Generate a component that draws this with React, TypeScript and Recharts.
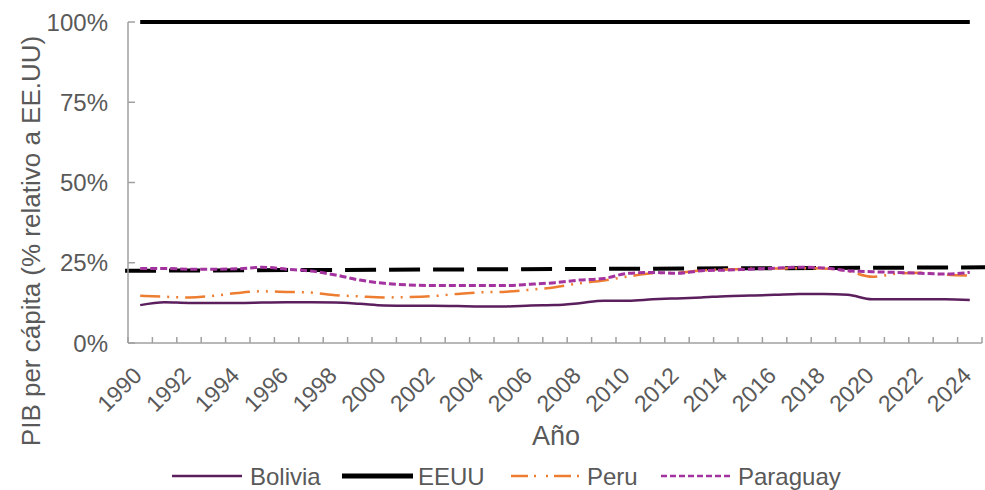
import { LineChart, Line, XAxis, YAxis, ReferenceLine } from "recharts";

const years = [
  1990, 1991, 1992, 1993, 1994, 1995, 1996, 1997, 1998, 1999,
  2000, 2001, 2002, 2003, 2004, 2005, 2006, 2007, 2008, 2009,
  2010, 2011, 2012, 2013, 2014, 2015, 2016, 2017, 2018, 2019,
  2020, 2021, 2022, 2023, 2024
];

const bolivia = [
  11.8, 12.7, 12.5, 12.5, 12.5, 12.6, 12.7, 12.7, 12.6, 12.2,
  11.7, 11.6, 11.6, 11.5, 11.4, 11.4, 11.7, 11.8, 12.4, 13.2,
  13.2, 13.6, 13.9, 14.2, 14.6, 14.8, 15.0, 15.3, 15.3, 15.0,
  13.6, 13.6, 13.6, 13.6, 13.4
];

const eeuu = [
  100, 100, 100, 100, 100, 100, 100, 100, 100, 100,
  100, 100, 100, 100, 100, 100, 100, 100, 100, 100,
  100, 100, 100, 100, 100, 100, 100, 100, 100, 100,
  100, 100, 100, 100, 100
];

const peru = [
  14.7, 14.4, 14.2, 14.7, 15.6, 16.1, 15.9, 15.7, 14.9, 14.5,
  14.2, 14.3, 14.6, 15.3, 15.8, 16.0, 16.6, 17.4, 18.6, 19.5,
  20.7, 21.7, 21.9, 22.6, 22.9, 23.1, 23.2, 23.3, 23.2, 22.4,
  20.6, 21.6, 21.9, 21.3, 21.0
];

const paraguay = [
  23.2, 23.2, 23.0, 23.0, 23.1, 23.6, 23.0, 22.4, 21.2, 19.6,
  18.6, 18.1, 17.9, 17.9, 17.9, 17.9, 18.3, 18.8, 19.6, 20.1,
  21.7, 22.0, 21.7, 22.5, 22.7, 23.0, 23.3, 23.6, 23.4, 22.5,
  22.2, 22.0, 21.7, 21.5, 22.0
];

// dashed black trend line (not in legend)
const trendYears = [1989.38, 2025.5];
const trendValues = [22.5, 23.6];

const yTicks = [0, 25, 50, 75, 100];
const labeledYears = [
  1990, 1992, 1994, 1996, 1998, 2000, 2002, 2004, 2006, 2008,
  2010, 2012, 2014, 2016, 2018, 2020, 2022, 2024
];

const data = years.map((year, i) => ({
  year,
  bolivia: bolivia[i],
  eeuu: eeuu[i],
  peru: peru[i],
  paraguay: paraguay[i]
}));

const boundaries = [...years.map((y) => y - 0.5), years[years.length - 1] + 0.5];

const W = 985;
const H = 490;
const LEFT = 128;
const RIGHT = 3;
const TOP = 22;
const XAXIS_H = 147;
const FONT = "'Liberation Sans', Arial, sans-serif";
const TEXT = "#595959";
const AXIS = "#A0A0A0";

const halfStep = (W - LEFT - RIGHT) / years.length / 2;

function YearTick(props: any) {
  const { x, y, payload } = props;
  const year = payload.value + 0.5;
  if (!labeledYears.includes(year)) return <g />;
  const tx = x + halfStep + 3;
  return (
    <text
      x={tx}
      y={y}
      textAnchor="end"
      fill={TEXT}
      fontSize={23}
      fontFamily={FONT}
      transform={`rotate(-45 ${tx} ${y})`}
    >
      {year}
    </text>
  );
}

const legendItems = [
  { name: "Bolivia", color: "#5B1F5E", width: 2.5, dash: undefined, x1: 172, x2: 242, tx: 250 },
  { name: "EEUU", color: "#000000", width: 5, dash: undefined, x1: 342, x2: 413, tx: 418 },
  { name: "Peru", color: "#ED7D31", width: 2.5, dash: "17 6 2 10 2 6", x1: 511, x2: 581, tx: 587 },
  { name: "Paraguay", color: "#A3339E", width: 2.5, dash: "6 3", x1: 661, x2: 733, tx: 738 }
];

export default function App() {
  return (
    <div style={{ position: "absolute", left: 0, top: 0, width: W, height: H, background: "#fff" }}>
      <LineChart
        width={W}
        height={H}
        data={data}
        margin={{ top: TOP, right: RIGHT, left: 0, bottom: 0 }}
      >
        <XAxis
          type="number"
          dataKey="year"
          domain={[1989.5, 2024.5]}
          ticks={boundaries}
          interval={0}
          allowDataOverflow
          height={XAXIS_H}
          stroke={AXIS}
          strokeWidth={1.5}
          tickSize={-6}
          tickMargin={40}
          tick={<YearTick />}
        />
        <YAxis
          domain={[0, 100]}
          ticks={yTicks}
          width={LEFT}
          stroke={AXIS}
          strokeWidth={1.5}
          tickSize={-7}
          tickMargin={27}
          tickFormatter={(v) => `${v}%`}
          tick={{ fill: TEXT, fontSize: 24, fontFamily: FONT }}
        />
        <ReferenceLine
          segment={[
            { x: trendYears[0], y: trendValues[0] },
            { x: trendYears[1], y: trendValues[1] }
          ]}
          stroke="#000"
          strokeWidth={4}
          strokeDasharray="31 13"
          ifOverflow="visible"
        />
        <Line
          type="monotone"
          dataKey="bolivia"
          stroke="#5B1F5E"
          strokeWidth={2.5}
          dot={false}
          activeDot={false}
          isAnimationActive={false}
        />
        <Line
          type="monotone"
          dataKey="eeuu"
          stroke="#000"
          strokeWidth={4}
          dot={false}
          activeDot={false}
          isAnimationActive={false}
        />
        <Line
          type="monotone"
          dataKey="peru"
          stroke="#ED7D31"
          strokeWidth={2.5}
          strokeDasharray="20 7 2 7 2 7"
          dot={false}
          activeDot={false}
          isAnimationActive={false}
        />
        <Line
          type="monotone"
          dataKey="paraguay"
          stroke="#A3339E"
          strokeWidth={3}
          strokeDasharray="7 3"
          dot={false}
          activeDot={false}
          isAnimationActive={false}
        />
      </LineChart>

      {/* titles + legend */}
      <svg
        width={W}
        height={H}
        style={{ position: "absolute", left: 0, top: 0, pointerEvents: "none" }}
        fontFamily={FONT}
      >
        <text
          transform="translate(40 241) rotate(-90)"
          textAnchor="middle"
          fontSize={26}
          fill={TEXT}
        >
          PIB per cápita (% relativo a EE.UU)
        </text>
        <text x={556} y={445} textAnchor="middle" fontSize={27} fill={TEXT}>
          Año
        </text>
        {legendItems.map((it) => (
          <g key={it.name}>
            <line
              x1={it.x1}
              x2={it.x2}
              y1={476}
              y2={476}
              stroke={it.color}
              strokeWidth={it.width}
              strokeDasharray={it.dash}
            />
            <text x={it.tx} y={485} fontSize={24} fill={TEXT}>
              {it.name}
            </text>
          </g>
        ))}
      </svg>
    </div>
  );
}
